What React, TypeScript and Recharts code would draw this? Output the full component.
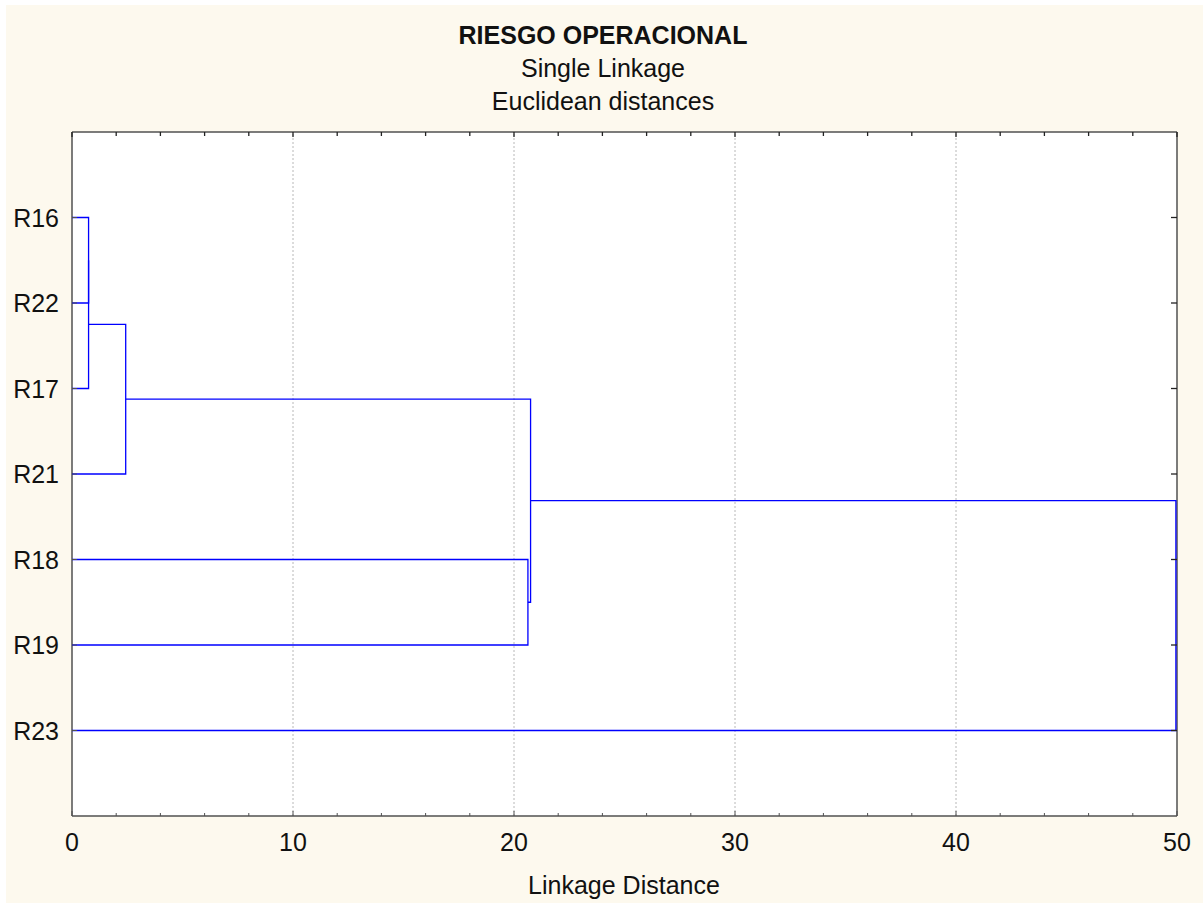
import React from 'react';
import {
  CartesianGrid,
  ComposedChart,
  ReferenceLine,
  Scatter,
  XAxis,
  YAxis
} from 'recharts';

const leaves = ['R16', 'R22', 'R17', 'R21', 'R18', 'R19', 'R23'];
// [left cluster, right cluster, linkage distance] - ids 7+ are earlier merges
const merges: [number, number, number][] = [
  [0, 1, 0.75],
  [7, 2, 0.75],
  [8, 3, 2.43],
  [4, 5, 20.63],
  [9, 10, 20.75],
  [11, 6, 49.95]
];
const xTicks = [0, 2, 4, 6, 8, 10, 12, 14, 16, 18, 20, 22, 24, 26, 28, 30, 32, 34, 36, 38, 40, 42, 44, 46, 48, 50];
const gridLines = [10, 20, 30, 40];
const yTicks = [1, 2, 3, 4, 5, 6, 7];

const FONT = '"Liberation Sans", Arial, sans-serif';
const AXIS = '#505050';
const BLUE = '#0000ff';
const FS = 25;

function buildLinks() {
  const ys = leaves.map((_, i) => i + 1);
  const hs = leaves.map(() => 0);
  return merges.map(([a, b, h]) => {
    const pts = [
      { x: hs[a], y: ys[a] },
      { x: h, y: ys[a] },
      { x: h, y: ys[b] },
      { x: hs[b], y: ys[b] }
    ];
    ys.push((ys[a] + ys[b]) / 2);
    hs.push(h);
    return pts;
  });
}

const links = buildLinks();
const leafPoints = leaves.map((_, i) => ({ x: 0, y: i + 1 }));

const BottomTick = (props: any) => {
  const { x, y, payload } = props;
  const major = payload.value % 10 === 0;
  return (
    <g>
      <line x1={x} x2={x} y1={y} y2={y - (major ? 5 : 3)} stroke={AXIS} />
      {major && (
        <text x={x} y={y + 35} textAnchor="middle" fontSize={FS} fill="#111" fontFamily={FONT}>
          {payload.value}
        </text>
      )}
    </g>
  );
};

const TopTick = (props: any) => {
  const { x, y, payload } = props;
  const major = payload.value % 10 === 0;
  return <line x1={x} x2={x} y1={y} y2={y + (major ? 5 : 4)} stroke="#222" strokeWidth={1.3} />;
};

const LeftTick = (props: any) => {
  const { x, y, payload } = props;
  return (
    <g>
      <line x1={x} x2={x + 5} y1={y} y2={y} stroke={AXIS} />
      <text x={x - 13} y={y + 9} textAnchor="end" fontSize={FS} fill="#111" fontFamily={FONT}>
        {leaves[payload.value - 1]}
      </text>
    </g>
  );
};

const RightTick = (props: any) => {
  const { x, y } = props;
  return <line x1={x} x2={x - 6} y1={y} y2={y} stroke="#222" strokeWidth={1.3} />;
};

const noShape = () => <g />;

const App: React.FC = () => {
  return (
    <div style={{ position: 'absolute', left: 0, top: 0, width: 1203, height: 903, background: '#ffffff' }}>
      <div style={{ position: 'absolute', left: 6, top: 5, right: 0, bottom: 0, background: '#fdf9ee' }} />
      <div style={{ position: 'absolute', left: 0, top: 0 }}>
        <ComposedChart
          width={1203}
          height={903}
          margin={{ top: 131, right: 25, left: 12, bottom: 47 }}
        >
          <CartesianGrid fill="#ffffff" horizontal={false} vertical={false} xAxisId="bottom" yAxisId="left" />
          <XAxis
            xAxisId="bottom"
            dataKey="x"
            type="number"
            domain={[0, 50]}
            ticks={xTicks}
            interval={0}
            height={40}
            tickSize={0}
            tickMargin={0}
            tickLine={false}
            tick={BottomTick}
            axisLine={{ stroke: AXIS, strokeWidth: 1.5 }}
          />
          <XAxis
            xAxisId="top"
            orientation="top"
            dataKey="x"
            type="number"
            domain={[0, 50]}
            ticks={xTicks}
            interval={0}
            height={1}
            tickSize={0}
            tickMargin={0}
            tickLine={false}
            tick={TopTick}
            axisLine={{ stroke: AXIS, strokeWidth: 1.5 }}
          />
          <YAxis
            yAxisId="left"
            dataKey="y"
            type="number"
            domain={[0, 8]}
            reversed
            ticks={yTicks}
            interval={0}
            width={60}
            tickSize={0}
            tickMargin={0}
            tickLine={false}
            tick={LeftTick}
            axisLine={{ stroke: AXIS, strokeWidth: 1.5 }}
          />
          <YAxis
            yAxisId="right"
            orientation="right"
            dataKey="y"
            type="number"
            domain={[0, 8]}
            reversed
            ticks={yTicks}
            interval={0}
            width={1}
            tickSize={0}
            tickMargin={0}
            tickLine={false}
            tick={RightTick}
            axisLine={{ stroke: AXIS, strokeWidth: 1.5 }}
          />
          {gridLines.map((g) => (
            <ReferenceLine
              key={g}
              x={g}
              xAxisId="bottom"
              yAxisId="left"
              stroke="#b8b8b8"
              strokeDasharray="2 2"
            />
          ))}
          <Scatter
            data={leafPoints}
            xAxisId="top"
            yAxisId="right"
            shape={noShape}
            legendType="none"
            isAnimationActive={false}
          />
          {links.map((pts, i) => (
            <Scatter
              key={i}
              data={pts}
              xAxisId="bottom"
              yAxisId="left"
              line={{ stroke: BLUE, strokeWidth: 1.3 }}
              lineType="joint"
              shape={noShape}
              legendType="none"
              isAnimationActive={false}
            />
          ))}
        </ComposedChart>
      </div>
      <svg
        width={1203}
        height={903}
        style={{ position: 'absolute', left: 0, top: 0, pointerEvents: 'none' }}
        fontFamily={FONT}
        fill="#111"
      >
        <text x={603} y={44} textAnchor="middle" fontSize={FS} fontWeight="bold">
          RIESGO OPERACIONAL
        </text>
        <text x={603} y={77} textAnchor="middle" fontSize={FS}>
          Single Linkage
        </text>
        <text x={603} y={110} textAnchor="middle" fontSize={FS}>
          Euclidean distances
        </text>
        <text x={624} y={894} textAnchor="middle" fontSize={FS}>
          Linkage Distance
        </text>
      </svg>
    </div>
  );
};

export default App;
